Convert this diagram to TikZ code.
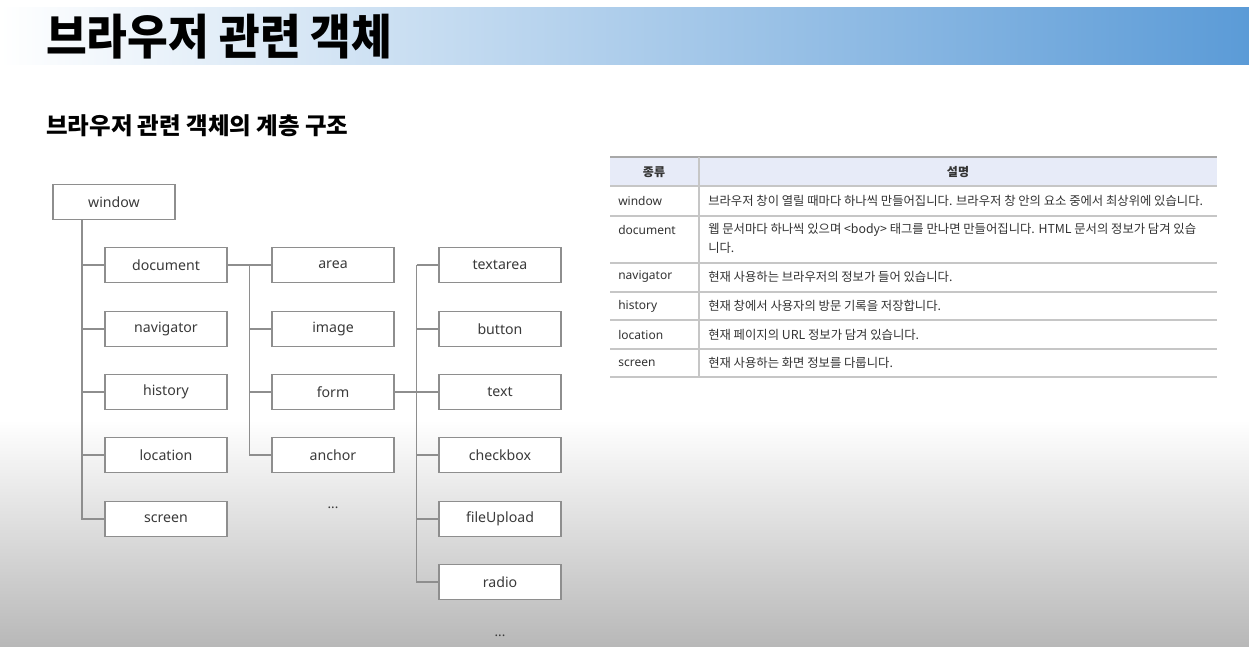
\documentclass[tikz,border=0pt]{standalone}
\usepackage{fontspec}
\setmainfont{Noto Sans}
\newfontfamily\kr{Noto Sans CJK KR}
\usetikzlibrary{calc}
\definecolor{titleblue}{HTML}{5B9BD7}
\definecolor{boxline}{HTML}{8E8E8E}
\definecolor{boxtext}{HTML}{3A3A3A}
\definecolor{tabline}{HTML}{C6C6C6}
\definecolor{tabtop}{HTML}{A8A8A8}
\definecolor{tabhead}{HTML}{E7EBF8}
\definecolor{tabtext}{HTML}{333333}
\definecolor{bggray}{HTML}{B8B8B8}
\tikzset{
  tbox/.style={draw=boxline, line width=1.1pt, fill=white, minimum width=91.5pt, minimum height=26.25pt, inner sep=0pt, font=\fontsize{10.6}{12}\selectfont, text=boxtext},
  conn/.style={draw=boxline, line width=1.1pt},
  dots/.style={font=\fontsize{10}{12}\selectfont, text=boxtext, inner sep=0pt},
  lcell/.style={anchor=west, inner sep=0pt, font=\fontsize{9}{11}\selectfont, text=tabtext},
  rcell/.style={anchor=west, inner sep=0pt, font=\kr\fontsize{9.25}{11}\selectfont, text=tabtext},
  hcell/.style={inner sep=0pt, font=\kr\bfseries\fontsize{9}{11}\selectfont, text=tabtext},
  rowline/.style={draw=tabline, line width=1.1pt},
}
\begin{document}
\begin{tikzpicture}[x=0.75pt,y=-0.75pt]
\useasboundingbox (0,0) rectangle (1249,646);
% background
\fill[white] (0,0) rectangle (1249,646);
\shade[top color=white, bottom color=bggray] (0,420) rectangle (1249,646);
% title bar
\shade[left color=white, right color=titleblue] (0,7) rectangle (1249,64);
\node[anchor=west, inner sep=0pt, yscale=1.08, font=\kr\bfseries\fontsize{33.2}{36}\selectfont] (title) at (46,37) {브라우저 관련 객체};
\node[anchor=west, inner sep=0pt, font=\kr\bfseries\fontsize{17.6}{20}\selectfont] (subtitle) at (46,126) {브라우저 관련 객체의 계층 구조};

% tree
\node[tbox] (window) at (114,202) {window};
\node[tbox] (document) at (166,265) {document};
\node[tbox] (navigator) at (166,329) {navigator};
\node[tbox] (history) at (166,392) {history};
\node[tbox] (location) at (166,455) {location};
\node[tbox] (screen) at (166,519) {screen};
\node[tbox] (area) at (333,265) {area};
\node[tbox] (image) at (333,329) {image};
\node[tbox] (form) at (333,392) {form};
\node[tbox] (anchor) at (333,455) {anchor};
\node[dots] (dotsa) at (333,508) {...};
\node[tbox] (textarea) at (500,265) {textarea};
\node[tbox] (button) at (500,329) {button};
\node[tbox] (text) at (500,392) {text};
\node[tbox] (checkbox) at (500,455) {checkbox};
\node[tbox] (fileUpload) at (500,519) {fileUpload};
\node[tbox] (radio) at (500,582) {radio};
\node[dots] (dotsb) at (500,636) {...};

\coordinate (t1) at (82,0);
\coordinate (t2) at (249.5,0);
\coordinate (t3) at (416.5,0);
\draw[conn] (window.south -| t1) |- (screen.west);
\foreach \n in {document,navigator,history,location}
  \draw[conn] (\n.west -| t1) -- (\n.west);
\draw[conn] (document.east) -- (area.west);
\draw[conn] (area.west -| t2) |- (anchor.west);
\foreach \n in {image,form}
  \draw[conn] (\n.west -| t2) -- (\n.west);
\draw[conn] (form.east) -- (text.west);
\draw[conn] (textarea.west -| t3) |- (radio.west);
\foreach \n in {textarea,button,checkbox,fileUpload}
  \draw[conn] (\n.west -| t3) -- (\n.west);

% table
\fill[tabhead] (610,158) rectangle (1217,186);
\foreach \y in {186,216,263,292,320,349,377}
  \draw[rowline] (610,\y) -- (1217,\y);
\draw[draw=tabtop, line width=1.6pt] (610,157) -- (1217,157);
\draw[rowline] (699,157) -- (699,377);
\node[hcell] (h1) at (654,172) {종류};
\node[hcell] (h2) at (958,172) {설명};
\node[lcell] (k1) at (618,201) {window};
\node[lcell] (k2) at (618,230) {document};
\node[lcell] (k3) at (618,277) {navigator};
\node[lcell] (k4) at (618,306) {history};
\node[lcell] (k5) at (618,335) {location};
\node[lcell] (k6) at (618,363) {screen};
\node[rcell] (v1) at (708,201) {브라우저 창이 열릴 때마다 하나씩 만들어집니다. 브라우저 창 안의 요소 중에서 최상위에 있습니다.};
\node[rcell] (v2) at (708,230) {웹 문서마다 하나씩 있으며 <body> 태그를 만나면 만들어집니다. HTML 문서의 정보가 담겨 있습};
\node[rcell] (v2b) at (708,248) {니다.};
\node[rcell] (v3) at (708,277) {현재 사용하는 브라우저의 정보가 들어 있습니다.};
\node[rcell] (v4) at (708,306) {현재 창에서 사용자의 방문 기록을 저장합니다.};
\node[rcell] (v5) at (708,335) {현재 페이지의 URL 정보가 담겨 있습니다.};
\node[rcell] (v6) at (708,363) {현재 사용하는 화면 정보를 다룹니다.};
\end{tikzpicture}
\end{document}
